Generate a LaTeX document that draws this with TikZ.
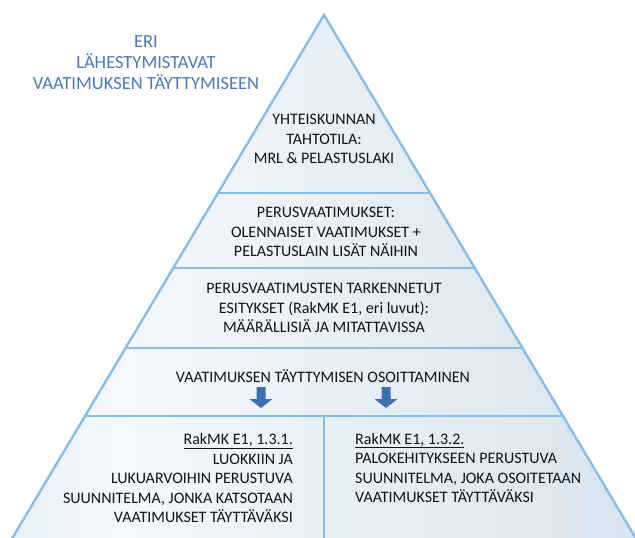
\documentclass[tikz,border=0pt]{standalone}
\usepackage{fontspec}
\setmainfont{Carlito}
\definecolor{edgeblue}{HTML}{86BDE9}
\definecolor{titleblue}{HTML}{4A79B6}
\definecolor{arrowblue}{HTML}{3F6FAF}
\definecolor{fillleft}{HTML}{C2DBF1}
\definecolor{fillmid}{HTML}{F4F8FB}
\definecolor{fillright}{HTML}{C6D8E6}
\pgfdeclarehorizontalshading{pyramidfill}{100bp}{color(0bp)=(fillleft); color(34bp)=(fillmid); color(100bp)=(fillright)}

\begin{document}
\begin{tikzpicture}[x=1pt, y=-1pt,
    edge/.style={draw=edgeblue, line width=2.4pt},
    title/.style={font=\fontsize{18.5}{21}\selectfont, text=titleblue, align=center, inner sep=0pt},
    level/.style={font=\fontsize{16}{19.5}\selectfont, text=black!92, inner sep=0pt}]
  \useasboundingbox (0,0) rectangle (635,538);
  \clip (0,0) rectangle (635,538);
  % Pyramid:
  \fill[shading=pyramidfill] (324,15) -- (641,547) -- (7,547) -- cycle;
  \draw[edge] (217,193) -- (431,193);
  \draw[edge] (172.5,268) -- (475.5,268);
  \draw[edge] (125,348) -- (523,348);
  \draw[edge] (84.5,416) -- (563.5,416);
  \draw[edge] (324,416) -- (324,547);
  \draw[edge, line join=miter] (7,547) -- (324,15) -- (641,547);
  % Texts:
  \node[title] (approach) at (146,63) {ERI\\LÄHESTYMISTAVAT\\VAATIMUKSEN TÄYTTYMISEEN};
  \node[level, align=center] (will) at (324,139) {YHTEISKUNNAN\\TAHTOTILA:\\MRL \& PELASTUSLAKI};
  \node[level, align=center] (basic) at (326,232) {PERUSVAATIMUKSET:\\OLENNAISET VAATIMUKSET +\\PELASTUSLAIN LISÄT NÄIHIN};
  \node[level, align=center] (refined) at (324,308) {PERUSVAATIMUSTEN TARKENNETUT\\ESITYKSET (RakMK E1, eri luvut):\\MÄÄRÄLLISIÄ JA MITATTAVISSA};
  \node[level] (proof) at (323,376) {VAATIMUKSEN TÄYTTYMISEN OSOITTAMINEN};
  \node[level, align=right, anchor=east] (classes) at (293,478) {\underline{RakMK E1, 1.3.1.}\\LUOKKIIN JA\\LUKUARVOIHIN PERUSTUVA\\SUUNNITELMA, JONKA KATSOTAAN\\VAATIMUKSET TÄYTTÄVÄKSI};
  \node[level, align=left, anchor=west] (fire) at (355,468) {\underline{RakMK E1, 1.3.2.}\\PALOKEHITYKSEEN PERUSTUVA\\SUUNNITELMA, JOKA OSOITETAAN\\VAATIMUKSET TÄYTTÄVÄKSI};
  % Arrows:
  \foreach \x in {261,386} \fill[arrowblue] (\x-4.5,387) -- (\x+4.5,387) -- (\x+4.5,399) -- (\x+11.5,399) -- (\x,408) -- (\x-11.5,399) -- (\x-4.5,399) -- cycle;
\end{tikzpicture}
\end{document}
